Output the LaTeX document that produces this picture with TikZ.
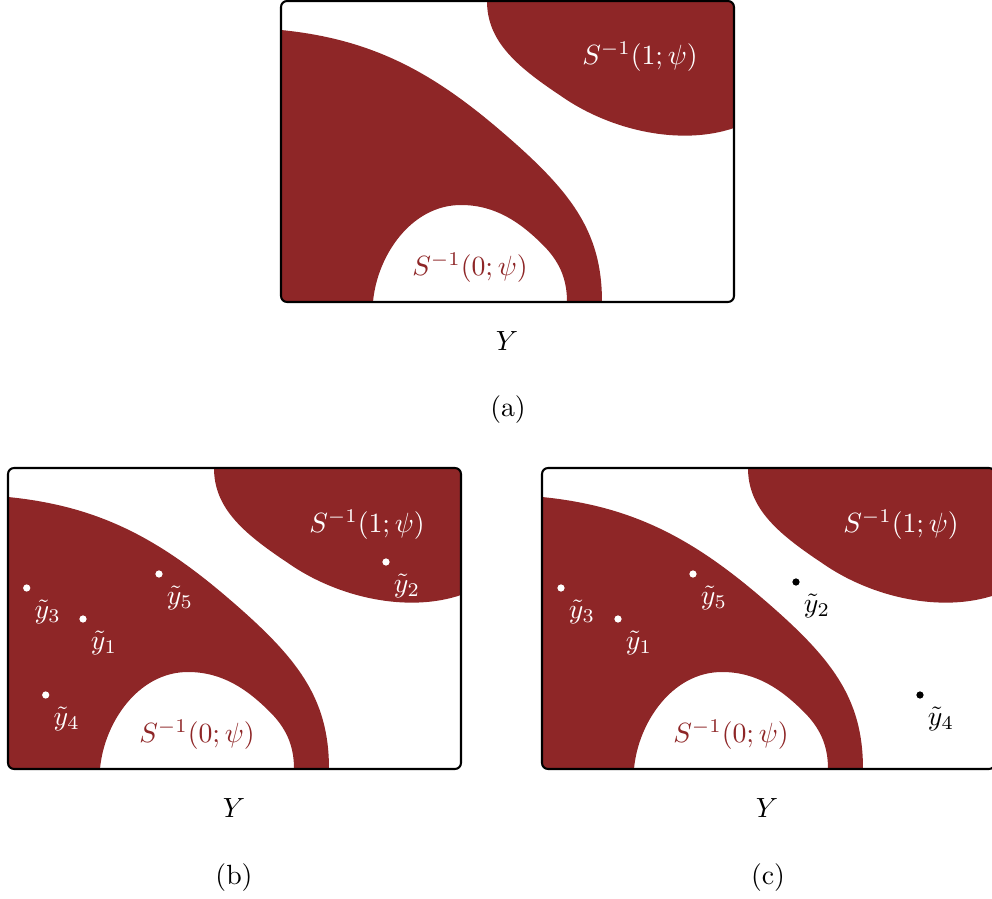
\documentclass[tikz,border=0pt]{standalone}
\definecolor{blobred}{RGB}{142,38,39}
\tikzset{
  panelbox/.style={draw=black, line width=0.75pt, rounded corners=2.2pt},
  blob/.style={fill=blobred},
  wdot/.style={circle, fill=white, inner sep=0pt, minimum size=2.6pt},
  bdot/.style={circle, fill=black, inner sep=0pt, minimum size=2.6pt},
  wlab/.style={text=white, inner sep=0pt},
  blab/.style={text=black, inner sep=0pt},
  caption/.style={text=black, inner sep=0pt},
}
\newcommand\mypanelshapes{%
  \begin{scope}
    \clip[rounded corners=2.2pt] (0,0) rectangle (453,301);
    \fill[blob] (-5,29) -- (0,29) .. controls (90,38) and (150,70) .. (220,130)
      .. controls (290,190) and (321,230) .. (321,301) -- (321,310) -- (286,310) -- (286,301)
      .. controls (286,280) and (280,262) .. (262,244)
      .. controls (240,222) and (215,204) .. (180,204)
      .. controls (130,204) and (96,255) .. (92,301) -- (92,310) -- (-5,310) -- cycle;
    \fill[blob] (206,-5) -- (206,0) .. controls (206,40) and (235,65) .. (280,95)
      .. controls (330,130) and (400,145) .. (453,127) -- (460,127) -- (460,-5) -- cycle;
  \end{scope}
  \draw[panelbox] (0,0) rectangle (453,301);
}
\begin{document}
\begin{tikzpicture}[x=0.36pt, y=-0.36pt]
\useasboundingbox (0,0) rectangle (992,899);
% panel (a)
\begin{scope}[shift={(281,1)}]
  \mypanelshapes
  \node[wlab] (a1) at (359,56) {$S^{-1}(1;\psi)$};
  \node[text=blobred, inner sep=0pt] (a0) at (189,267) {$S^{-1}(0;\psi)$};
\end{scope}
\node[caption] (aY) at (507,341) {$Y$};
\node[caption] (acap) at (508,410) {(a)};
% panel (b)
\begin{scope}[shift={(8,468)}]
  \mypanelshapes
  \node[wlab] (b1) at (359,57) {$S^{-1}(1;\psi)$};
  \node[text=blobred, inner sep=0pt] (b0) at (189,267) {$S^{-1}(0;\psi)$};
  \node[wdot] (by3) at (18.7,120) {};
  \node[wdot] (by1) at (75,151) {};
  \node[wdot] (by5) at (151,106) {};
  \node[wdot] (by4) at (37.7,227) {};
  \node[wdot] (by2) at (378,94) {};
  \node[wlab] (lby3) at ([shift={(21,24)}]by3.center) {$\tilde y_3$};
  \node[wlab] (lby1) at ([shift={(21,24)}]by1.center) {$\tilde y_1$};
  \node[wlab] (lby5) at ([shift={(21,24)}]by5.center) {$\tilde y_5$};
  \node[wlab] (lby4) at ([shift={(21,24)}]by4.center) {$\tilde y_4$};
  \node[wlab] (lby2) at ([shift={(21,24)}]by2.center) {$\tilde y_2$};
\end{scope}
\node[caption] (bY) at (234,808) {$Y$};
\node[caption] (bcap) at (234,878) {(b)};
% panel (c)
\begin{scope}[shift={(542,468)}]
  \mypanelshapes
  \node[wlab] (c1) at (359,57) {$S^{-1}(1;\psi)$};
  \node[text=blobred, inner sep=0pt] (c0) at (189,267) {$S^{-1}(0;\psi)$};
  \node[wdot] (cy3) at (19,120) {};
  \node[wdot] (cy1) at (76,151) {};
  \node[wdot] (cy5) at (151,106) {};
  \node[bdot] (cy2) at (254,114) {};
  \node[bdot] (cy4) at (378,227) {};
  \node[wlab] (lcy3) at ([shift={(21,24)}]cy3.center) {$\tilde y_3$};
  \node[wlab] (lcy1) at ([shift={(21,24)}]cy1.center) {$\tilde y_1$};
  \node[wlab] (lcy5) at ([shift={(21,24)}]cy5.center) {$\tilde y_5$};
  \node[blab] (lcy2) at ([shift={(21,24)}]cy2.center) {$\tilde y_2$};
  \node[blab] (lcy4) at ([shift={(21,24)}]cy4.center) {$\tilde y_4$};
\end{scope}
\node[caption] (cY) at (767,808) {$Y$};
\node[caption] (ccap) at (768,878) {(c)};
\end{tikzpicture}
\end{document}
